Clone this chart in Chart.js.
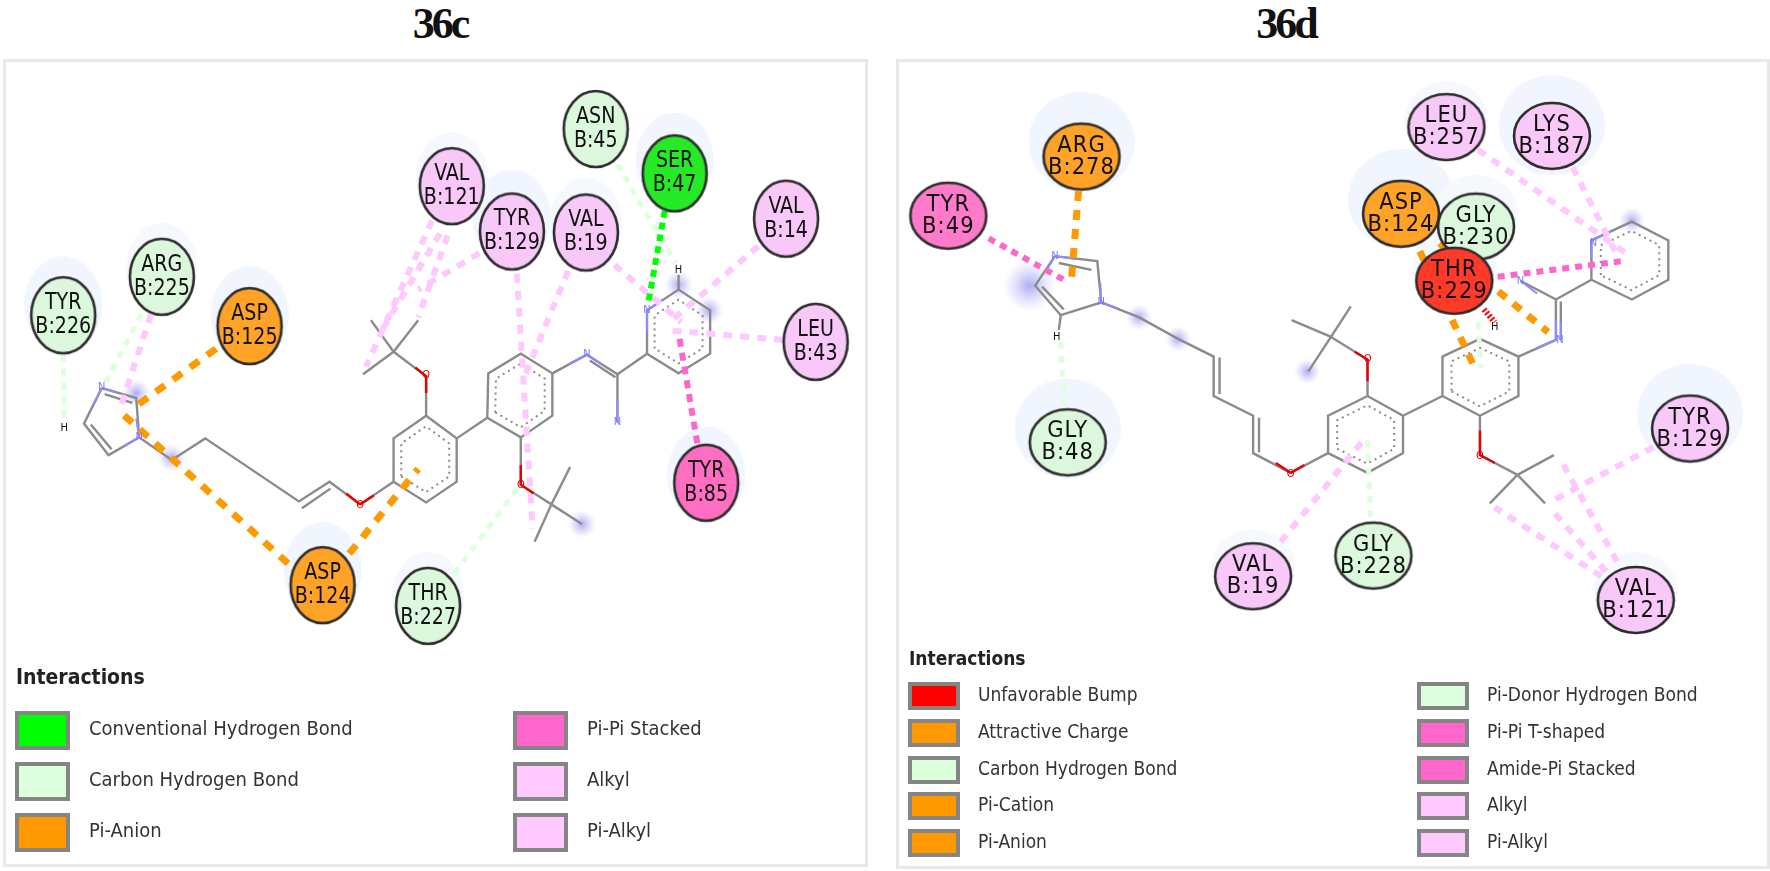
<!DOCTYPE html>
<html>
<head>
<meta charset="utf-8">
<script src="https://cdn.jsdelivr.net/npm/chart.js@4/dist/chart.umd.min.js"></script>
<style>
html,body{margin:0;padding:0;background:#fff;}
body{position:relative;width:1770px;height:871px;overflow:hidden;font-family:"DejaVu Sans Condensed","DejaVu Sans",sans-serif;color:#222;}
.title{position:absolute;top:-2px;font:bold 44px "Liberation Serif",serif;letter-spacing:-3px;color:#111;transform:translateX(-50%);}
.panel{position:absolute;box-sizing:border-box;border:3px solid #e8e8e8;background:#fff;}
.panel canvas{position:absolute;left:0;top:0;filter:blur(.6px);}
.head{position:absolute;font-weight:bold;color:#222;filter:blur(.3px);}
.swatch{position:absolute;box-sizing:border-box;border:4px solid #858585;}
.item{position:absolute;white-space:nowrap;color:#333;filter:blur(.3px);transform:translateY(-50%);}
</style>
</head>
<body>
<div class="title" style="left:440px">36c</div>
<div class="title" style="left:1286px">36d</div>
<script>
// colours of the interaction types
const GREEN = "#00ff00", PALE_GREEN = "#dcffdc", ORANGE = "#ff9900", HOT_PINK = "#ff66cc", PINK = "#ffc8ff", RED = "#ff0000";

// ---- 36c residues [label, x, y]
const cSerGreen = [["SER\nB:47",678,169]];
const cPaleGreen = [["ASN\nB:45",598,124],["ARG\nB:225",158,274],["TYR\nB:226",58,313],["THR\nB:227",428,608]];
const cOrange = [["ASP\nB:125",247,324],["ASP\nB:124",321,587]];
const cHotPink = [["TYR\nB:85",710,483]];
const cPink = [["VAL\nB:121",452,182],["TYR\nB:129",513,228],["VAL\nB:19",588,229],["VAL\nB:14",791,215],["LEU\nB:43",821,340]];
const cHalos = [[678,156],[513,214],[247,312],[321,572],[58,302],[710,475]];
const cFaintHalos = [[588,218],[158,264],[428,598],[452,172]];
const cGlows = [[132,392],[168,458],[584,525],[713,308],[682,282]];
const cBigGlows = [];

// ---- 36c interactions, from residue to ligand [x1,y1,x2,y2]
const cHBond = [[668,207,651,302]];
const cCarbonH = [[58,353,59,422],[137,312,100,383],[620,160,679,260],[455,575,519,488]];
const cPiAnion = [[213,347,132,405],[286,565,118,413],[348,555,418,469]];
const cPiPi = [[683,337,701,443]];
const cAlkyl = [[147,312,115,410],[432,217,365,365],[440,230,382,327],[448,232,418,315],[480,250,418,287],[518,271,534,530],[570,268,525,377],[617,262,685,320],[763,243,673,320],[788,338,668,328]];

// ---- 36c ligand
const cBonds = [
  [97,387,132,397,135,437,104,455,79,423,97,387],
  [100,393,128,402],[86,424,107,449],
  [135,437,168,460,202,438,297,502,328,482,359,505,393,482],
  [300,509,329,489],
  [393,482,426,503,457,482,457,438,426,415,393,438,393,482],
  [426,415,426,375,393,350],[393,350,370,318],[393,350,418,318],[393,350,362,373],
  [457,438,488,417],
  [488,417,522,437,554,415,554,372,522,352,489,372,488,417],
  [554,372,589,353,620,373,650,352],[592,359,618,376],[620,373,620,422],
  [650,352,650,308,682,287,714,308,714,352,682,372,650,352],
  [682,287,682,272],
  [522,437,522,485,553,505],[553,505,572,467],[553,505,536,543],[553,505,584,525]
];
const cRedBonds = [[426,392,426,375,415,366],[359,505,345,494],[359,505,373,496],[522,465,522,485,535,494]];
const cBlueBonds = [[97,387,112,391],[97,387,88,405],[135,437,132,418],[135,437,120,446],[570,363,589,353,604,363],[620,400,620,422],[650,330,650,308,666,297]];
const cRings = [
  [393,482,426,503,457,482,457,438,426,415,393,438],
  [488,417,522,437,554,415,554,372,522,352,489,372],
  [650,352,650,308,682,287,714,308,714,352,682,372]
];
const cAtoms = [["N",97,386,"#7a7aff"],["N",135,437,"#7a7aff"],["H",59,428,"#111"],["O",426,374,"#e00000"],["O",359,506,"#e00000"],["O",522,485,"#e00000"],["N",589,352,"#7a7aff"],["N",620,422,"#7a7aff"],["N",650,308,"#7a7aff"],["H",682,267,"#111"]];

// ---- 36c legend
const cLegendLeft = ["Conventional Hydrogen Bond","Carbon Hydrogen Bond","Pi-Anion"];
const cLegendLeftColors = [GREEN,PALE_GREEN,ORANGE];
const cLegendRight = ["Pi-Pi Stacked","Alkyl","Pi-Alkyl"];
const cLegendRightColors = [HOT_PINK,PINK,PINK];

// ---- 36d residues
const dRed = [["THR\nB:229",1456,278]];
const dPaleGreen = [["GLY\nB:230",1478,223],["GLY\nB:48",1064,442],["GLY\nB:228",1374,557]];
const dOrange = [["ARG\nB:278",1078,152],["ASP\nB:124",1402,210]];
const dHotPink = [["TYR\nB:49",943,212]];
const dPink = [["LEU\nB:257",1448,122],["LYS\nB:187",1555,131],["TYR\nB:129",1695,428],["VAL\nB:19",1252,578],["VAL\nB:121",1640,602]];
const dHalos = [[1078,137],[1402,195],[1555,120],[1064,428],[1695,413]];
const dFaintHalos = [[1456,266],[1478,210],[1640,593],[1252,570],[1448,115]];
const dGlows = [[1136,315],[1176,337],[1307,370],[1636,217]];
const dBigGlows = [[1025,283]];

// ---- 36d interactions
const dBump = [[1486,307,1497,320]];
const dCarbonH = [[1057,340,1060,405],[1371,518,1368,440],[1480,320,1483,367]];
const dPiOrange = [[1075,187,1068,275],[1421,248,1477,367],[1441,240,1551,330]];
const dPiPi = [[984,235,1060,277],[1500,274,1627,258]];
const dAlkyl = [[1480,145,1630,250],[1576,163,1619,248],[1280,543,1362,442],[1658,447,1554,502],[1605,578,1497,508],[1610,573,1554,510],[1621,563,1565,462]];

// ---- 36d ligand
const dBonds = [
  [1051,253,1094,258,1098,300,1057,313,1031,283,1051,253],
  [1055,260,1088,267],[1038,284,1060,307],
  [1057,313,1055,328],
  [1098,300,1136,315,1176,337,1212,355,1212,395,1252,415,1252,453,1290,473,1328,453],
  [1218,356,1218,393],[1258,417,1258,452],
  [1328,453,1368,473,1404,453,1404,415,1368,395,1328,415,1328,453],
  [1368,395,1368,358,1331,335],[1331,335,1351,304],[1331,335,1291,318],[1331,335,1308,370],
  [1404,415,1444,395],
  [1444,395,1482,415,1521,395,1521,355,1482,337,1444,355,1444,395],
  [1521,355,1559,338,1559,297,1523,278],[1564,338,1564,299],[1559,297,1595,277],
  [1595,277,1595,237,1636,218,1673,237,1673,277,1636,297,1595,277],
  [1482,415,1482,455,1520,475],[1520,475,1557,455],[1520,475,1492,504],[1520,475,1548,504]
];
const dRedBonds = [[1368,380,1368,358,1355,350],[1290,473,1275,463],[1290,473,1304,465],[1482,430,1482,455,1497,463]];
const dBlueBonds = [[1051,253,1072,256],[1051,253,1042,268],[1098,300,1097,280],[1098,300,1115,306],[1559,338,1540,346],[1559,338,1559,318],[1564,338,1564,320],[1523,278,1540,291],[1595,237,1595,255],[1595,237,1615,228]];
const dRings = [
  [1328,453,1368,473,1404,453,1404,415,1368,395,1328,415],
  [1444,395,1482,415,1521,395,1521,355,1482,337,1444,355],
  [1595,277,1595,237,1636,218,1673,237,1673,277,1636,297]
];
const dAtoms = [["N",1051,253,"#7a7aff"],["N",1098,300,"#7a7aff"],["H",1053,335,"#111"],["O",1368,358,"#e00000"],["O",1290,474,"#e00000"],["O",1482,456,"#e00000"],["N",1563,338,"#7a7aff"],["N",1523,278,"#7a7aff"],["N",1597,240,"#7a7aff"],["H",1497,325,"#111"]];

// ---- 36d legend
const dLegendLeft = ["Unfavorable Bump","Attractive Charge","Carbon Hydrogen Bond","Pi-Cation","Pi-Anion"];
const dLegendLeftColors = [RED,ORANGE,PALE_GREEN,ORANGE,ORANGE];
const dLegendRight = ["Pi-Donor Hydrogen Bond","Pi-Pi T-shaped","Amide-Pi Stacked","Alkyl","Pi-Alkyl"];
const dLegendRightColors = [PALE_GREEN,HOT_PINK,HOT_PINK,PINK,PINK];

// point images for the library to stamp
function bubble(fill,rx,ry){
  const c = document.createElement("canvas");
  c.width = rx*2+6; c.height = ry*2+6;
  const g = c.getContext("2d");
  g.beginPath();
  g.ellipse(rx+3,ry+3,rx,ry,0,0,Math.PI*2);
  g.fillStyle = fill; g.fill();
  g.lineWidth = 2.6; g.strokeStyle = "#2c2c2c"; g.stroke();
  return c;
}
function halo(rx,ry,color){
  const c = document.createElement("canvas");
  c.width = rx*2; c.height = ry*2;
  const g = c.getContext("2d");
  g.beginPath();
  g.ellipse(rx,ry,rx,ry,0,0,Math.PI*2);
  g.fillStyle = color; g.fill();
  return c;
}
function glow(r){
  const c = document.createElement("canvas");
  c.width = c.height = r*2;
  const g = c.getContext("2d");
  const grad = g.createRadialGradient(r,r,0,r,r,r);
  grad.addColorStop(0,"rgba(150,150,240,.8)");
  grad.addColorStop(1,"rgba(190,190,250,0)");
  g.fillStyle = grad;
  g.fillRect(0,0,r*2,r*2);
  return c;
}
function pts(path){
  const out = [];
  for(let i=0;i<path.length;i+=2) out.push({x:path[i],y:path[i+1]});
  return out;
}
function lines(list,color,width,dash){
  return list.map(p=>({data:pts(p),showLine:true,pointRadius:0,borderColor:color,borderWidth:width,borderDash:dash||[],tension:0}));
}
// dotted inner circle of an aromatic ring
function ringDots(ring){
  let cx=0,cy=0;
  for(let i=0;i<12;i+=2){cx+=ring[i]/6;cy+=ring[i+1]/6;}
  const inner=[];
  for(let i=0;i<14;i+=2){
    inner.push(cx+(ring[i%12]-cx)*.76,cy+(ring[(i+1)%12]-cy)*.76);
  }
  return inner;
}
function residues(list,fill,rx,ry,txt){
  return {data:list.map(r=>({x:r[1],y:r[2]})),residueNames:list.map(r=>r[0]),residueText:txt,
    pointStyle:bubble(fill,rx,ry),pointRadius:5,showLine:false};
}
function stamps(list,img){
  return {data:list.map(r=>({x:r[0],y:r[1]})),pointStyle:img,pointRadius:5,showLine:false};
}

const labelPlugin = {
  id:"residueLabels",
  afterDatasetsDraw(chart){
    const g = chart.ctx;
    chart.data.datasets.forEach((ds,i)=>{
      const meta = chart.getDatasetMeta(i);
      if(ds.residueNames){
        const t = ds.residueText;
        meta.data.forEach((el,j)=>{
          const parts = ds.residueNames[j].split("\n");
          g.save();
          g.translate(el.x,el.y);
          g.scale(t.sx,1);
          g.font = t.font;
          g.fillStyle = "#111";
          g.textAlign = "center";
          g.textBaseline = "middle";
          g.letterSpacing = t.spacing;
          g.fillText(parts[0],0,-t.gap);
          g.fillText(parts[1],0,t.gap);
          g.restore();
        });
      }
      if(ds.atomLabels){
        meta.data.forEach((el,j)=>{
          g.save();
          g.font = "11px 'DejaVu Sans Condensed','DejaVu Sans'";
          g.fillStyle = ds.atomLabels[j][3];
          g.textAlign = "center";
          g.textBaseline = "middle";
          g.fillText(ds.atomLabels[j][0],el.x,el.y);
          g.restore();
        });
      }
    });
  }
};

function buildChart(box,d){
  const wrap = document.createElement("div");
  wrap.className = "panel";
  wrap.style.cssText = `left:${box.l}px;top:${box.t}px;width:${box.r-box.l}px;height:${box.b-box.t}px`;
  document.body.appendChild(wrap);
  const cv = document.createElement("canvas");
  cv.width = box.r-box.l; cv.height = box.b-box.t;
  cv.style.left = cv.style.top = "-3px";
  wrap.appendChild(cv);

  // painted back to front, reversed below because chart.js draws index 0 last
  const sets = [];
  sets.push(stamps(d.halos,halo(d.haloRx,d.haloRy,"#f1f5fd")));
  sets.push(stamps(d.faintHalos,halo(d.rx+4,d.ry+6,"#f5f8fd")));
  sets.push(stamps(d.glows,glow(d.glowR)));
  if(d.bigGlows.length) sets.push(stamps(d.bigGlows,glow(d.glowR*2)));
  sets.push(...lines(d.bonds,"#8b8b8b",2.4));
  sets.push(...lines(d.rings.map(ringDots),"#8b8b8b",2,[2,4]));
  sets.push(...lines(d.redBonds,"#e80000",2.4));
  sets.push(...lines(d.blueBonds,"#8c8cff",2));
  d.links.forEach(l=>sets.push(...lines(l.list,l.color,l.width,l.dash)));
  sets.push({data:d.atoms.map(a=>({x:a[1],y:a[2]})),atomLabels:d.atoms,pointRadius:0,showLine:false});
  d.groups.forEach(g=>sets.push(residues(g.list,g.fill,d.rx,d.ry,d.text)));
  sets.reverse();

  new Chart(cv,{
    type:"scatter",
    data:{datasets:sets},
    options:{
      responsive:false,
      animation:false,
      events:[],
      layout:{padding:0},
      plugins:{legend:{display:false},tooltip:{enabled:false}},
      scales:{
        x:{type:"linear",display:false,min:box.l,max:box.r},
        y:{type:"linear",display:false,min:box.t,max:box.b,reverse:true}
      }
    },
    plugins:[labelPlugin]
  });
}

function legendColumn(labels,colors,l){
  labels.forEach((txt,i)=>{
    const y = l.y0+i*l.step;
    const s = document.createElement("div");
    s.className = "swatch";
    s.style.cssText = `left:${l.sx}px;top:${y-l.sh/2}px;width:${l.sw}px;height:${l.sh}px;background:${colors[i]}`;
    document.body.appendChild(s);
    const t = document.createElement("div");
    t.className = "item";
    t.textContent = txt;
    t.style.cssText = `left:${l.tx}px;top:${y-2}px;font-size:${l.fs}px`;
    document.body.appendChild(t);
  });
}
function legendHead(x,y,fs){
  const h = document.createElement("div");
  h.className = "head";
  h.textContent = "Interactions";
  h.style.cssText = `left:${x}px;top:${y}px;font-size:${fs}px`;
  document.body.appendChild(h);
}

const narrow = "'Liberation Sans Narrow','DejaVu Sans Condensed',sans-serif";

buildChart({l:3,t:59,r:868,b:867},{
  halos:cHalos,haloRx:39,haloRy:48,faintHalos:cFaintHalos,glows:cGlows,bigGlows:cBigGlows,glowR:14,
  bonds:cBonds,rings:cRings,redBonds:cRedBonds,blueBonds:cBlueBonds,atoms:cAtoms,
  rx:32,ry:38,text:{font:"23px "+narrow,sx:.92,spacing:"0px",gap:12},
  links:[
    {list:cAlkyl,color:PINK,width:6,dash:[9,8]},
    {list:cCarbonH,color:PALE_GREEN,width:5,dash:[7,7]},
    {list:cHBond,color:GREEN,width:6,dash:[7,5]},
    {list:cPiAnion,color:ORANGE,width:7,dash:[11,10]},
    {list:cPiPi,color:HOT_PINK,width:6,dash:[8,6]}
  ],
  groups:[
    {list:cPink,fill:"#f8c8f8"},{list:cPaleGreen,fill:"#dcf8dc"},
    {list:cSerGreen,fill:"#25ea25"},{list:cOrange,fill:"#ffa228"},{list:cHotPink,fill:"#ff6ec0"}
  ]
});

buildChart({l:896,t:59,r:1770,b:869},{
  halos:dHalos,haloRx:53,haloRy:50,faintHalos:dFaintHalos,glows:dGlows,bigGlows:dBigGlows,glowR:13,
  bonds:dBonds,rings:dRings,redBonds:dRedBonds,blueBonds:dBlueBonds,atoms:dAtoms,
  rx:38,ry:33,text:{font:"23px "+narrow,sx:1.02,spacing:"1px",gap:11},
  links:[
    {list:dAlkyl,color:PINK,width:6,dash:[9,8]},
    {list:dCarbonH,color:PALE_GREEN,width:5,dash:[7,7]},
    {list:dPiOrange,color:ORANGE,width:7,dash:[10,9]},
    {list:dPiPi,color:HOT_PINK,width:6,dash:[7,6]},
    {list:dBump,color:RED,width:6,dash:[2,2]}
  ],
  groups:[
    {list:dOrange,fill:"#ffa228"},{list:dPaleGreen,fill:"#dcf8dc"},
    {list:dRed,fill:"#ff3a28"},{list:dHotPink,fill:"#ff7ac8"},{list:dPink,fill:"#f8c8f8"}
  ]
});

legendHead(16,665,21);
legendColumn(cLegendLeft,cLegendLeftColors,{sx:15,sw:55,sh:39,y0:730,step:51,tx:89,fs:20});
legendColumn(cLegendRight,cLegendRightColors,{sx:513,sw:55,sh:39,y0:730,step:51,tx:587,fs:20});
legendHead(909,647,19);
legendColumn(dLegendLeft,dLegendLeftColors,{sx:908,sw:52,sh:28,y0:696,step:36.8,tx:978,fs:19});
legendColumn(dLegendRight,dLegendRightColors,{sx:1417,sw:52,sh:28,y0:696,step:36.8,tx:1487,fs:19});
</script>
</body>
</html>
